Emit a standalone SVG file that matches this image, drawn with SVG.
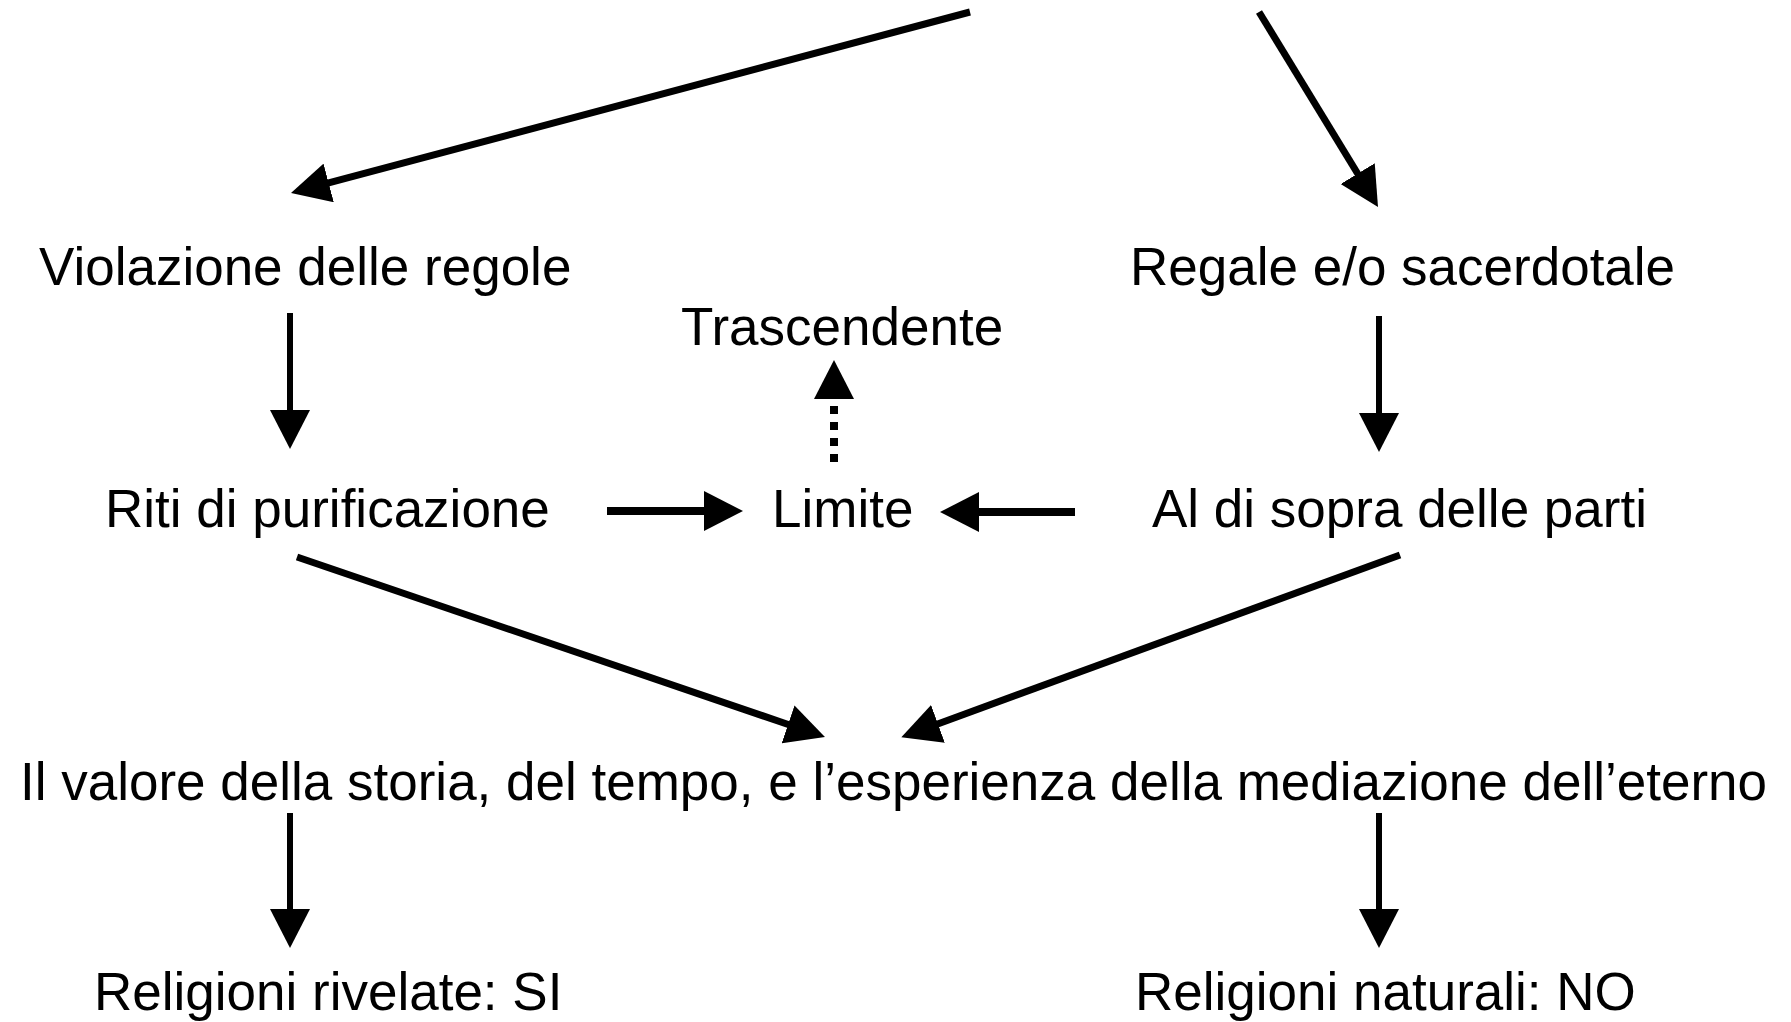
<svg xmlns="http://www.w3.org/2000/svg" width="1791" height="1022" viewBox="0 0 1791 1022">
<style>
  .lbl { font-family: "Liberation Sans", Arial, sans-serif; font-size: 53px; fill: #000; }
  .c { stroke: #000; fill: none; stroke-linecap: butt; }
  .d { stroke-width: 7; }
  .v { stroke-width: 6; }
  .h { stroke-width: 8; }
  .dot { stroke-width: 8; stroke-dasharray: 8 8; }
</style>
<defs>
  <marker id="head" viewBox="0 0 39 40" markerWidth="39" markerHeight="40" markerUnits="userSpaceOnUse" refX="1" refY="20" orient="auto">
    <path d="M0,0 L39,20 L0,40 Z" fill="#000"/>
  </marker>
</defs>
<rect width="1791" height="1022" fill="#fff"/>
<g id="connectors">
  <line class="c d" x1="970" y1="12" x2="327.7" y2="183.2" marker-end="url(#head)"/>
  <line class="c d" x1="1259" y1="12" x2="1358.2" y2="174.5" marker-end="url(#head)"/>
  <line class="c v" x1="290" y1="313" x2="290" y2="411" marker-end="url(#head)"/>
  <line class="c v" x1="1379" y1="316" x2="1379" y2="414" marker-end="url(#head)"/>
  <line class="c h" x1="607" y1="511" x2="705" y2="511" marker-end="url(#head)"/>
  <line class="c h" x1="1075" y1="512" x2="978" y2="512" marker-end="url(#head)"/>
  <line class="c dot" x1="834" y1="462" x2="834" y2="398" marker-end="url(#head)"/>
  <line class="c d" x1="297" y1="557" x2="789" y2="724.7" marker-end="url(#head)"/>
  <line class="c d" x1="1400" y1="555" x2="937" y2="724.2" marker-end="url(#head)"/>
  <line class="c v" x1="290" y1="813" x2="290" y2="910" marker-end="url(#head)"/>
  <line class="c v" x1="1379" y1="813" x2="1379" y2="910" marker-end="url(#head)"/>
</g>
<g id="violazione"><text class="lbl" x="39" y="285">Violazione delle regole</text></g>
<g id="regale"><text class="lbl" x="1130" y="285">Regale e/o sacerdotale</text></g>
<g id="trascendente"><text class="lbl" x="681" y="345">Trascendente</text></g>
<g id="riti"><text class="lbl" x="105" y="527">Riti di purificazione</text></g>
<g id="limite"><text class="lbl" x="772" y="527">Limite</text></g>
<g id="aldisopra"><text class="lbl" x="1152" y="527">Al di sopra delle parti</text></g>
<g id="valore"><text class="lbl" x="20" y="800">Il valore della storia, del tempo, e l’esperienza della mediazione dell’eterno</text></g>
<g id="rivelate"><text class="lbl" x="94" y="1010">Religioni rivelate: SI</text></g>
<g id="naturali"><text class="lbl" x="1135" y="1010">Religioni naturali: NO</text></g>
</svg>
